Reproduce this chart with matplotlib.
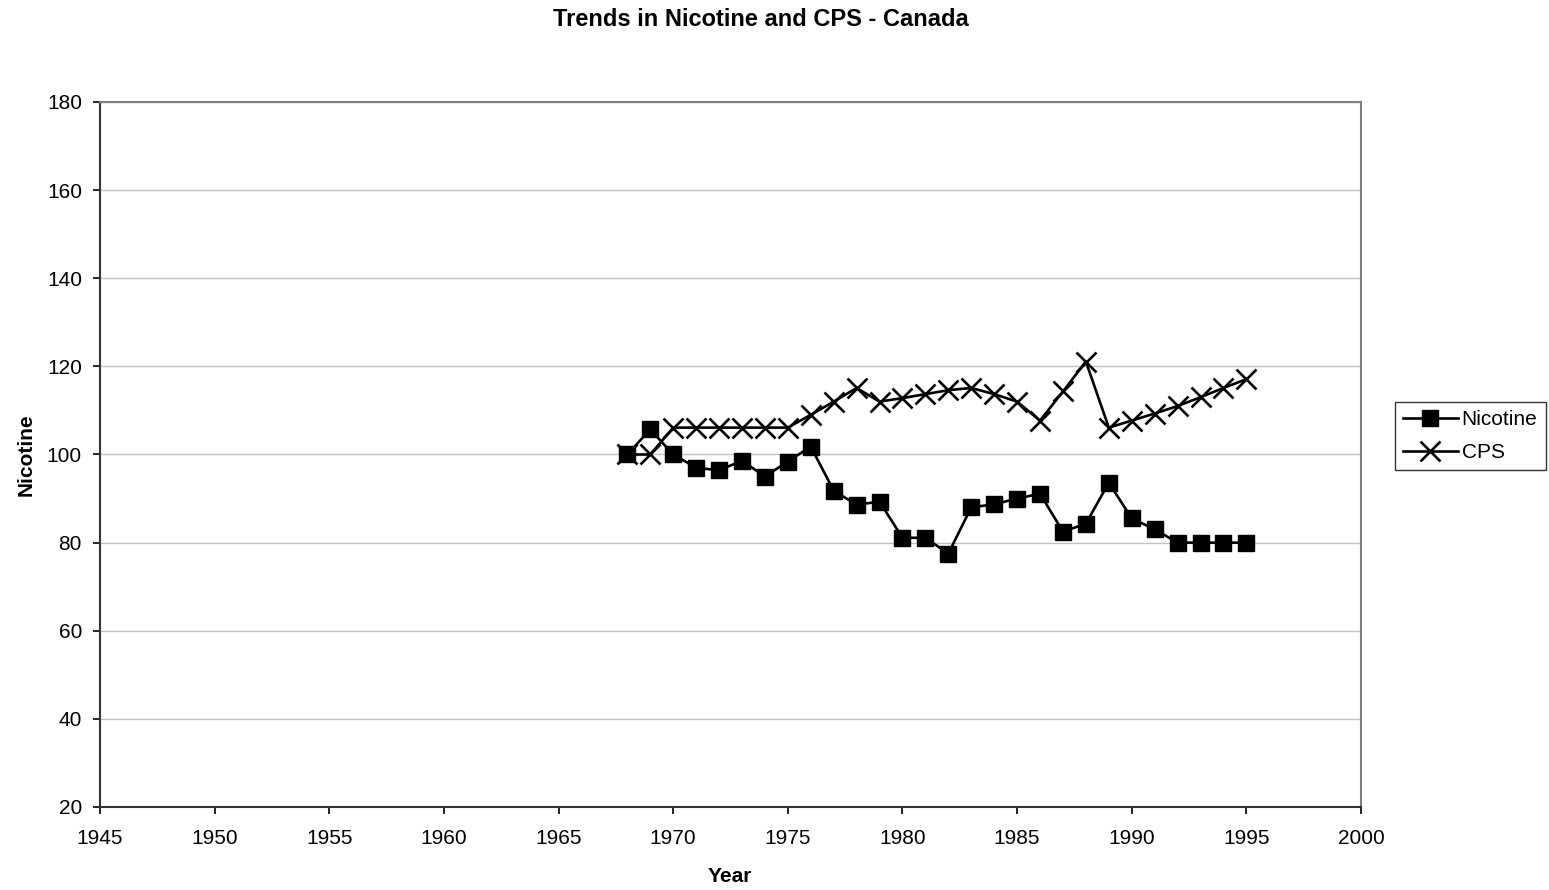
import matplotlib
matplotlib.use("Agg")
import matplotlib.pyplot as plt

plt.rcParams['font.family'] = ['Liberation Sans', 'DejaVu Sans']

years = list(range(1968, 1996))
nicotine = [100, 105.7, 100, 97, 96.4, 98.6, 95, 98.4, 101.8, 91.8, 88.6, 89.3,
            81.1, 81.1, 77.5, 88, 88.7, 90, 91.1, 82.5, 84.3, 93.6, 85.5, 83,
            80, 80, 80, 80]
cps = [100, 100, 106.1, 106.1, 106.1, 106.1, 106.1, 106.1, 109, 112, 115.1, 112,
       112.8, 113.7, 114.6, 115.1, 113.7, 112, 107.7, 114.3, 121.1, 106.1, 107.7,
       109.3, 111, 113, 115.1, 117.1]
xticks = list(range(1945, 2001, 5))
yticks = list(range(20, 181, 20))

W, H = 1549, 890
fig = plt.figure(figsize=(W / 100, H / 100), dpi=100)
ax = fig.add_axes([100 / W, 1 - 807 / H, (1361 - 100) / W, (807 - 102) / H])

fs = 15
ax.plot(years, nicotine, color='black', lw=1.9, marker='s', ms=11,
        mfc='black', mec='black', label='Nicotine', zorder=3)
ax.plot(years, cps, color='black', lw=1.9, marker='x', ms=15, mew=1.9,
        label='CPS', zorder=3)

ax.set_xlim(1945, 2000)
ax.set_ylim(20, 180)
ax.set_xticks(xticks)
ax.set_yticks(yticks)
ax.tick_params(direction='out', length=5, width=1.2, labelsize=fs, colors='black')
ax.tick_params(axis='y', pad=8)
ax.tick_params(axis='x', pad=11)
ax.yaxis.grid(True, color='#c0c0c0', lw=1)
ax.set_axisbelow(True)
for s in ['top', 'right']:
    ax.spines[s].set_color('#808080')
    ax.spines[s].set_linewidth(1.5)
for s in ['left', 'bottom']:
    ax.spines[s].set_color('#333333')
    ax.spines[s].set_linewidth(1.5)

fig.text(730 / W, 1 - 876 / H, 'Year', ha='center', va='center', fontsize=fs, fontweight='bold')
fig.text(26 / W, 1 - 455 / H, 'Nicotine', ha='center', va='center', rotation=90,
         fontsize=fs, fontweight='bold')
fig.text(761 / W, 1 - 20 / H, 'Trends in Nicotine and CPS - Canada', ha='center', va='center',
         fontsize=17, fontweight='bold')

leg = fig.legend(loc='upper left', bbox_to_anchor=(1395 / W, 1 - 402 / H), fontsize=fs,
                 frameon=True, fancybox=False, edgecolor='black', handlelength=2.6,
                 handletextpad=0.2, borderpad=0.4, labelspacing=0.65, borderaxespad=0)
leg.get_frame().set_linewidth(1.0)

fig.savefig('out.png', dpi=100)
